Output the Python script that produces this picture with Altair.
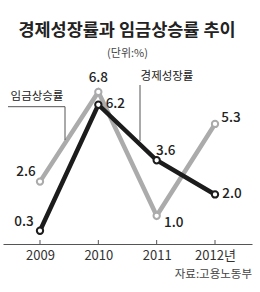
import altair as alt
import pandas as pd

# ---- data ----
years = ["2009", "2010", "2011", "2012년"]
growth = [0.3, 6.2, 3.6, 2.0]   # 경제성장률 (black)
wage = [2.6, 6.8, 1.0, 5.3]     # 임금상승률 (grey)

title_text = "경제성장률과 임금상승률 추이"
unit_text = "(단위:%)"
source_text = "자료:고용노동부"
growth_name = "경제성장률"
wage_name = "임금상승률"

# ---- label offsets (style, pixels) ----
growth_label_dx = [-16, 17, 9, 17]
growth_label_dy = [-9, -1, -9, 0]
wage_label_dx = [-14, 0, 17, 16]
wage_label_dy = [-10, -14, 7, -6]

FONT = "Noto Sans CJK KR"
W, H = 249, 182
BLACK = "#1c1c1c"
GREY = "#ababab"

df_g = pd.DataFrame({"year": years, "value": growth})
df_w = pd.DataFrame({"year": years, "value": wage})

x = alt.X(
    "year:N", sort=years,
    scale=alt.Scale(type="point", padding=0.634),
    axis=alt.Axis(title=None, labelAngle=0, ticks=False, grid=False,
                  domainColor="#555555", domainWidth=1.2,
                  labelFont=FONT, labelFontSize=13, labelColor="#333333",
                  labelPadding=5),
)
y = alt.Y("value:Q", scale=alt.Scale(domain=[-0.32, 8.2], nice=False, zero=False), axis=None)

layers = []

# axis ticks pointing upward
layers.append(alt.Chart(df_g).mark_rule(color="#555555", strokeWidth=1).encode(
    x=x, y=alt.value(H - 4), y2=alt.value(H)))

# lines
layers.append(alt.Chart(df_w).mark_line(color=GREY, strokeWidth=4.5).encode(x=x, y=y))
layers.append(alt.Chart(df_g).mark_line(color=BLACK, strokeWidth=4.5).encode(x=x, y=y))

# points
layers.append(alt.Chart(df_w).mark_point(shape="circle", filled=True, fill="white", stroke=GREY,
                                          strokeWidth=2, size=40, opacity=1).encode(x=x, y=y))
layers.append(alt.Chart(df_g).mark_point(shape="circle", filled=True, fill="white", stroke=BLACK,
                                          strokeWidth=2, size=40, opacity=1).encode(x=x, y=y))

# value labels
for i in range(len(years)):
    layers.append(alt.Chart(df_w.iloc[[i]]).mark_text(
        dx=wage_label_dx[i], dy=wage_label_dy[i], font=FONT, fontSize=13.5, color="#222222",
        fontWeight=500, align="center", baseline="middle").encode(
        x=x, y=y, text=alt.Text("value:Q", format=".1f")))
    layers.append(alt.Chart(df_g.iloc[[i]]).mark_text(
        dx=growth_label_dx[i], dy=growth_label_dy[i], font=FONT, fontSize=13.5, color="#222222",
        fontWeight=500, align="center", baseline="middle").encode(
        x=x, y=y, text=alt.Text("value:Q", format=".1f")))

# series annotations with leader lines
ann_style = dict(color="#555555", strokeWidth=1)
layers.append(alt.Chart(pd.DataFrame({"t": [wage_name]})).mark_text(
    font=FONT, fontSize=11.5, color="#222222", align="center", baseline="alphabetic").encode(
    x=alt.value(34), y=alt.value(37.5), text="t:N"))
layers.append(alt.Chart(pd.DataFrame({"t": [wage_name]})).mark_rule(**ann_style).encode(
    x=alt.value(5), x2=alt.value(62), y=alt.value(44.7)))
layers.append(alt.Chart(pd.DataFrame({"t": [wage_name]})).mark_rule(**ann_style).encode(
    x=alt.value(62), y=alt.value(44.7), y2=alt.value(78)))

layers.append(alt.Chart(pd.DataFrame({"t": [growth_name]})).mark_text(
    font=FONT, fontSize=11.5, color="#222222", align="center", baseline="alphabetic").encode(
    x=alt.value(164), y=alt.value(17.5), text="t:N"))
layers.append(alt.Chart(pd.DataFrame({"t": [growth_name]})).mark_rule(**ann_style).encode(
    x=alt.value(137), y=alt.value(23), y2=alt.value(79)))

# title, unit, source
layers.append(alt.Chart(pd.DataFrame({"t": [title_text]})).mark_text(
    font=FONT, fontSize=17.5, fontWeight="bold", color="#222222", align="center",
    baseline="alphabetic").encode(x=alt.value(124), y=alt.value(-26), text="t:N"))
layers.append(alt.Chart(pd.DataFrame({"t": [unit_text]})).mark_text(
    font=FONT, fontSize=11, color="#444444", align="center",
    baseline="alphabetic").encode(x=alt.value(124.5), y=alt.value(-5.5), text="t:N"))
layers.append(alt.Chart(pd.DataFrame({"t": [source_text]})).mark_text(
    font=FONT, fontSize=11.5, color="#444444", align="right",
    baseline="alphabetic").encode(x=alt.value(249), y=alt.value(216), text="t:N"))

chart = alt.layer(*layers).properties(
    width=W, height=H,
    padding={"left": 3, "top": 62, "right": 8, "bottom": 48},
    autosize=alt.AutoSizeParams(type="none"),
    background="white",
).configure_view(stroke=None)

chart.save("out.html", embed_options={"renderer": "svg", "actions": False})
